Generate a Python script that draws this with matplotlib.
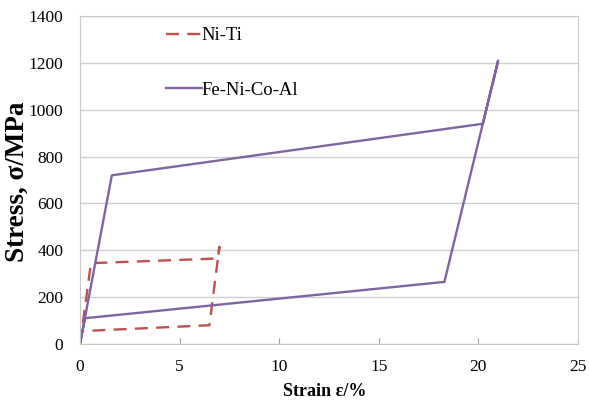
import matplotlib
matplotlib.use("Agg")
import matplotlib.pyplot as plt
import numpy as np

plt.rcParams['font.family'] = ['Liberation Serif', 'DejaVu Serif']

# Data
niti_strain = [0.0, 0.55, 6.93, 7.0, 6.5, 0.1, 0.0]
niti_stress = [0, 345, 365, 415, 80, 55, 0]
fe_strain = [0.0, 1.6, 20.23, 21.0, 18.3, 0.25, 0.0]
fe_stress = [0, 720, 940, 1210, 265, 110, 0]
x_ticks = [0, 5, 10, 15, 20, 25]
y_ticks = [0, 200, 400, 600, 800, 1000, 1200, 1400]

fig = plt.figure(figsize=(5.89, 4.07), dpi=100)
ax = fig.add_axes([0.1358, 0.1548, 0.981 - 0.1358, 0.9607 - 0.1548])

ax.plot(niti_strain, niti_stress, color='#C0504D', lw=1.7, dashes=(5.5, 3.5), label='Ni-Ti')
ax.plot(fe_strain, fe_stress, color='#8064A2', lw=1.7, label='Fe-Ni-Co-Al')

ax.set_xlim(0, 25)
ax.set_ylim(0, 1400)
ax.set_xticks(x_ticks)
ax.set_yticks(y_ticks)
ax.yaxis.grid(True, color='#D0D0D0', lw=1)
ax.set_axisbelow(True)
for s in ax.spines.values():
    s.set_color('#C8C8C8')
ax.tick_params(axis='x', direction='in', length=4, color='#A0A0A0', labelsize=12.5, pad=11)
ax.tick_params(axis='y', length=0, labelsize=12.5, pad=12)

fig.text(325 / 589, 1 - 392 / 407, 'Strain ε/%', fontsize=13, fontweight='bold',
         ha='center', va='center')
fig.text(17 / 589, 1 - 182 / 407, 'Stress, σ/MPa', fontsize=19.5, fontweight='bold',
         ha='center', va='center', rotation=90)

leg = ax.legend(loc='upper left', bbox_to_anchor=(0.155, 0.994), frameon=False,
                borderpad=0, fontsize=13.4, labelspacing=2.0, handlelength=1.9,
                handletextpad=0.0)

fig.savefig('out.png', dpi=100)
